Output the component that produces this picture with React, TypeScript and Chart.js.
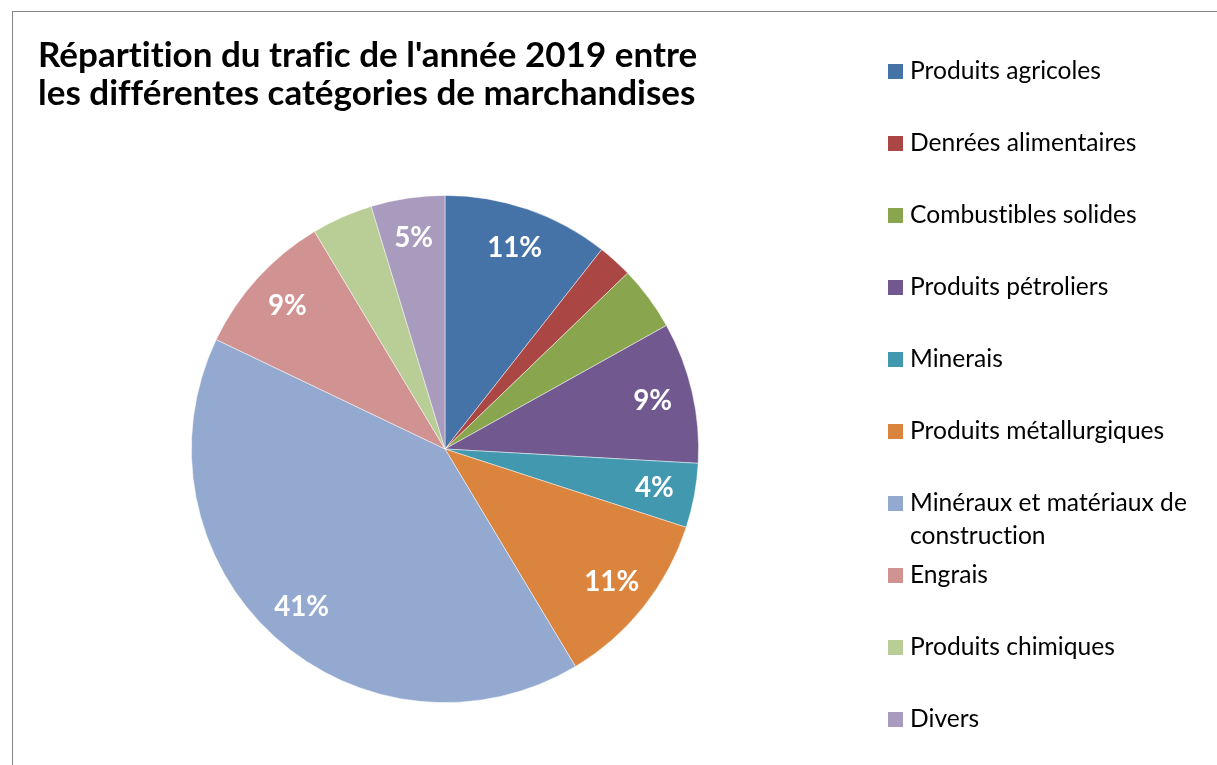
import React, { useEffect, useRef } from "react";
import { Chart, registerables } from "chart.js";

Chart.register(...registerables);

const titleLines = [
  "Répartition du trafic de l'année 2019 entre",
  "les différentes catégories de marchandises",
];

const categories = [
  "Produits agricoles",
  "Denrées alimentaires",
  "Combustibles solides",
  "Produits pétroliers",
  "Minerais",
  "Produits métallurgiques",
  "Minéraux et matériaux de construction",
  "Engrais",
  "Produits chimiques",
  "Divers",
];

const shares = [10.6, 2.2, 4.1, 9.0, 4.1, 11.4, 40.7, 9.3, 3.9, 4.7];

const colors = [
  "#4572A7",
  "#AA4643",
  "#89A54E",
  "#71588F",
  "#4198AF",
  "#DB843D",
  "#93A9CF",
  "#D19392",
  "#B9CD96",
  "#A99BBD",
];

const showLabel = [true, false, false, true, true, true, true, true, false, true];

const FONT = "Lato, 'Open Sans', sans-serif";

function noLigatures(ctx: any) {
  try {
    ctx.textRendering = "optimizeSpeed";
  } catch (e) {}
  try {
    ctx.letterSpacing = "0.01px";
  } catch (e) {}
}

function fitSize(ctx: CanvasRenderingContext2D, text: string, weight: string, target: number) {
  ctx.font = `${weight} 100px ${FONT}`;
  const w = ctx.measureText(text).width;
  return (100 * target) / w;
}

function wrap(ctx: CanvasRenderingContext2D, text: string, maxW: number): string[] {
  const words = text.split(" ");
  const lines: string[] = [];
  let cur = "";
  for (const w of words) {
    const t = cur ? cur + " " + w : w;
    if (ctx.measureText(t).width > maxW && cur) {
      lines.push(cur);
      cur = w;
    } else cur = t;
  }
  if (cur) lines.push(cur);
  return lines;
}

const decorPlugin = {
  id: "decor",
  beforeDraw(chart: any) {
    const ctx: CanvasRenderingContext2D = chart.ctx;
    ctx.save();
    ctx.fillStyle = "#ffffff";
    ctx.fillRect(0, 0, chart.width, chart.height);
    ctx.strokeStyle = "#868686";
    ctx.lineWidth = 1;
    ctx.strokeRect(12.5, 11.5, chart.width + 40, chart.height + 40);
    ctx.restore();
  },
  afterDraw(chart: any) {
    const ctx: CanvasRenderingContext2D = chart.ctx;
    ctx.save();
    noLigatures(ctx);
    // Title
    const tSize = fitSize(ctx, titleLines[0], "bold", 659);
    ctx.font = `bold ${tSize}px ${FONT}`;
    ctx.fillStyle = "#000000";
    ctx.textAlign = "left";
    ctx.textBaseline = "alphabetic";
    titleLines.forEach((t, i) => ctx.fillText(t, 38, 67 + i * 38));

    // Data labels
    const values: number[] = chart.data.datasets[0].data;
    const total = values.reduce((a, b) => a + b, 0);
    const meta = chart.getDatasetMeta(0);
    const lSize = fitSize(ctx, "11%", "bold", 55);
    ctx.font = `bold ${lSize}px ${FONT}`;
    ctx.fillStyle = "#ffffff";
    ctx.textAlign = "center";
    ctx.textBaseline = "middle";
    meta.data.forEach((arc: any, i: number) => {
      if (!showLabel[i]) return;
      const p = arc.getProps(["x", "y", "startAngle", "endAngle", "outerRadius"], true);
      const mid = (p.startAngle + p.endAngle) / 2;
      const r = p.outerRadius * 0.84;
      const txt = Math.round((values[i] / total) * 100) + "%";
      ctx.fillText(txt, p.x + Math.cos(mid) * r, p.y + Math.sin(mid) * r);
    });

    // Legend
    const labels: string[] = chart.data.labels;
    const bg: string[] = chart.data.datasets[0].backgroundColor;
    const gSize = fitSize(ctx, labels[0], "normal", 191);
    ctx.font = `normal ${gSize}px ${FONT}`;
    ctx.textAlign = "left";
    ctx.textBaseline = "alphabetic";
    labels.forEach((lab, i) => {
      const cy = 71.5 + i * 72;
      ctx.fillStyle = bg[i];
      ctx.fillRect(888, cy - 7.5, 15, 15);
      ctx.fillStyle = "#000000";
      const lines = wrap(ctx, lab, 295);
      lines.forEach((ln, j) => ctx.fillText(ln, 910, cy + 7.5 + j * 33));
    });
    ctx.restore();
  },
};

export default function App() {
  const ref = useRef<HTMLCanvasElement | null>(null);
  useEffect(() => {
    if (!ref.current) return;
    const chart = new Chart(ref.current, {
      type: "pie",
      data: {
        labels: categories,
        datasets: [
          {
            data: shares,
            backgroundColor: colors,
            borderColor: "rgba(255,255,255,0.6)",
            borderWidth: 0.8,
          },
        ],
      },
      options: {
        animation: false,
        responsive: false,
        events: [],
        layout: { padding: { left: 191, right: 518, top: 195, bottom: 62 } },
        plugins: {
          legend: { display: false },
          title: { display: false },
          tooltip: { enabled: false },
        },
      },
      plugins: [decorPlugin],
    });
    return () => chart.destroy();
  }, []);
  return (
    <div style={{ position: "fixed", left: 0, top: 0, width: 1217, height: 765, background: "#fff" }}>
      <canvas ref={ref} width={1217} height={765} style={{ width: 1217, height: 765, display: "block" }} />
    </div>
  );
}
